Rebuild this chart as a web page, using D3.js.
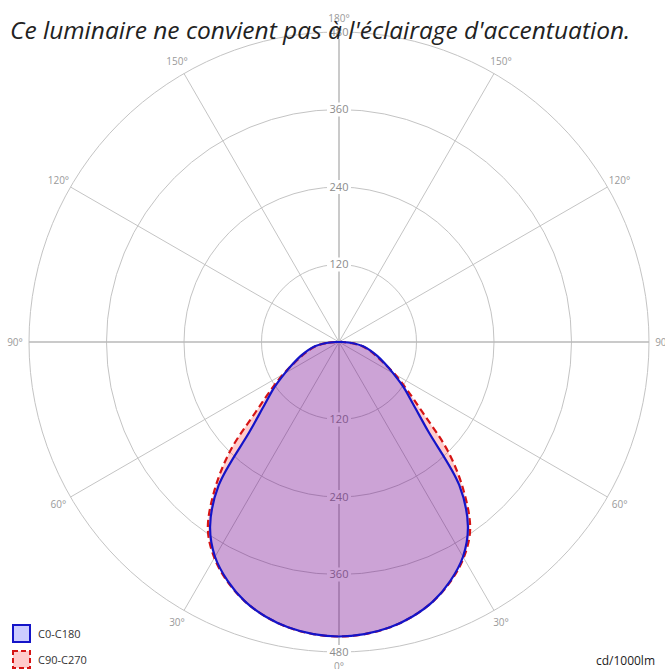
<!DOCTYPE html>
<html>
<head>
<meta charset="utf-8">
<script src="https://cdn.jsdelivr.net/npm/d3@7"></script>
<style>
  body { margin: 0; background: #fff; }
  svg { display: block; font-family: "Open Sans", "DejaVu Sans", sans-serif; }
</style>
</head>
<body>
<svg id="chart" width="665" height="669"></svg>
<script>
// gamma angles (deg from nadir) and intensities in cd/1000lm
var gammas   = [0, 5, 10, 15, 20, 25, 30, 35, 40, 45, 50, 55, 60, 65, 70, 75, 80, 85, 90];
var c0c180   = [456, 454, 449, 440, 427, 408, 384, 348, 290, 195, 150, 122, 97, 78, 63, 50, 38, 22, 5];
var c90c270  = [456, 454, 449, 440, 427, 409, 386, 354, 300, 238, 168, 128, 100, 76, 60, 48, 36, 20, 5];
var ringTicks  = [120, 240, 360, 480];
var angleTicks = [0, 30, 60, 90, 120, 150, 180];
var seriesNames = ["C0-C180", "C90-C270"];
var title = "Ce luminaire ne convient pas à l'éclairage d'accentuation.";
var unitLabel = "cd/1000lm";

var svg = d3.select("#chart")
  , cx = 339
  , cy = 342
  , rMax = 310
  , gridColor = "#c4c4c4"
  ;

var r = d3.scaleLinear().domain([0, 480]).range([0, rMax]);

// gamma measured from straight down, left side negative
function toAngle(g) { return Math.PI - g * Math.PI / 180; }

var g = svg.append("g")
    .attr("transform", "translate(" + cx + "," + cy + ")");

// grid circles
g.selectAll("circle.ring")
  .data(ringTicks)
  .enter().append("circle")
    .attr("class", "ring")
    .attr("r", function(d) { return r(d); })
    .attr("fill", "none")
    .attr("stroke", gridColor)
    .attr("stroke-width", 1);

// spokes, both sides
var spokes = [];
angleTicks.forEach(function(a) { spokes.push(a); if (a > 0 && a < 180) spokes.push(-a); });
g.selectAll("line.spoke")
  .data(spokes)
  .enter().append("line")
    .attr("class", "spoke")
    .attr("x1", 0).attr("y1", 0)
    .attr("x2", function(d) { return rMax * Math.sin(toAngle(d)); })
    .attr("y2", function(d) { return -rMax * Math.cos(toAngle(d)); })
    .attr("stroke", function(d) { return (d === 0 || d === 180 || Math.abs(d) === 90) ? "#b8b8b8" : gridColor; })
    .attr("stroke-width", function(d) { return (d === 0 || d === 180 || Math.abs(d) === 90) ? 1.5 : 1; });

// ring value labels, above and below the centre
var ringLabels = [];
ringTicks.forEach(function(v) { ringLabels.push({v: v, s: 1}); ringLabels.push({v: v, s: -1}); });
var rl = g.selectAll("g.rlabel")
  .data(ringLabels)
  .enter().append("g")
    .attr("class", "rlabel")
    .attr("transform", function(d) { return "translate(0," + (d.s * r(d.v)) + ")"; });
rl.append("rect")
    .attr("x", -12).attr("y", -7)
    .attr("width", 24).attr("height", 14)
    .attr("fill", "#fff");
rl.append("text")
    .attr("text-anchor", "middle")
    .attr("dy", "0.35em")
    .attr("font-size", 11)
    .attr("fill", "#8c8c8c")
    .text(function(d) { return d.v; });

// angle labels outside the outer ring
var rLab = rMax + 14;
g.selectAll("text.alabel")
  .data(spokes)
  .enter().append("text")
    .attr("class", "alabel")
    .attr("x", function(d) { return rLab * Math.sin(toAngle(d)); })
    .attr("y", function(d) { return -rLab * Math.cos(toAngle(d)); })
    .attr("text-anchor", "middle")
    .attr("dy", "0.35em")
    .attr("font-size", 10)
    .attr("fill", "#9a9a9a")
    .text(function(d) { return Math.abs(d) + "°"; });

// build closed curve points from -90..90 plus the centre
function curvePoints(vals) {
  var pts = [];
  for (var i = gammas.length - 1; i > 0; i--) pts.push({g: -gammas[i], v: vals[i]});
  for (var j = 0; j < gammas.length; j++) pts.push({g: gammas[j], v: vals[j]});
  pts.push({g: 180, v: 0});
  return pts;
}

var line = d3.lineRadial()
    .angle(function(d) { return toAngle(d.g); })
    .radius(function(d) { return r(d.v); })
    .curve(d3.curveCatmullRomClosed.alpha(0.5));

var series = [
  {name: seriesNames[0], vals: c0c180,  fill: "rgba(0,0,255,0.2)", stroke: "#1414c8", dash: null},
  {name: seriesNames[1], vals: c90c270, fill: "rgba(255,0,0,0.2)", stroke: "#d61414", dash: "7,4"}
];

// red drawn first so the blue outline sits on top
g.selectAll("path.curve")
  .data(series.slice().reverse())
  .enter().append("path")
    .attr("class", "curve")
    .attr("d", function(d) { return line(curvePoints(d.vals)); })
    .attr("fill", function(d) { return d.fill; })
    .attr("stroke", function(d) { return d.stroke; })
    .attr("stroke-width", 2.2)
    .attr("stroke-dasharray", function(d) { return d.dash; })
    .attr("stroke-linejoin", "round");

// title over the chart
svg.append("text")
    .attr("x", 10)
    .attr("y", 39)
    .attr("font-size", 24.5)
    .attr("font-style", "italic")
    .attr("fill", "#222")
    .text(title);

// legend
var legend = svg.selectAll("g.legend")
  .data(series)
  .enter().append("g")
    .attr("class", "legend")
    .attr("transform", function(d, i) { return "translate(13," + (625 + i * 26) + ")"; });
legend.append("rect")
    .attr("width", 17).attr("height", 17)
    .attr("fill", function(d) { return d.fill; })
    .attr("stroke", function(d) { return d.stroke; })
    .attr("stroke-width", 2)
    .attr("stroke-dasharray", function(d) { return d.dash ? "5,3" : null; });
legend.append("text")
    .attr("x", 25)
    .attr("y", 9)
    .attr("dy", "0.35em")
    .attr("font-size", 11)
    .attr("fill", "#333")
    .text(function(d) { return d.name; });

svg.append("text")
    .attr("x", 655)
    .attr("y", 665)
    .attr("text-anchor", "end")
    .attr("font-size", 12)
    .attr("fill", "#222")
    .text(unitLabel);
</script>
</body>
</html>
